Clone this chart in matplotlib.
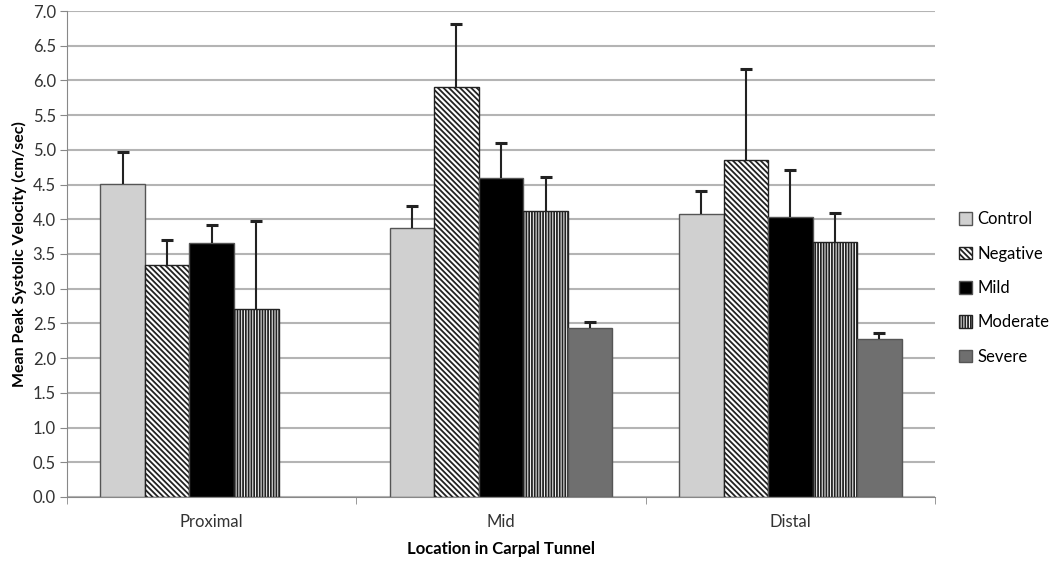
import matplotlib.pyplot as plt
import numpy as np

plt.rcParams['font.family'] = ['Lato', 'DejaVu Sans']
plt.rcParams['hatch.linewidth'] = 1.3

# datos
locations = ["Proximal", "Mid", "Distal"]
series = ["Control", "Negative", "Mild", "Moderate", "Severe"]
control = [4.51, 3.87, 4.08]
negative = [3.34, 5.91, 4.85]
mild = [3.66, 4.59, 4.03]
moderate = [2.71, 4.12, 3.67]
severe = [np.nan, 2.43, 2.28]
# errores (solo hacia arriba)
control_err = [0.46, 0.32, 0.33]
negative_err = [0.36, 0.90, 1.31]
mild_err = [0.26, 0.51, 0.68]
moderate_err = [1.27, 0.49, 0.42]
severe_err = [np.nan, 0.09, 0.08]

values = [control, negative, mild, moderate, severe]
errors = [control_err, negative_err, mild_err, moderate_err, severe_err]
colors = ["#d0d0d0", "white", "black", "white", "#6f6f6f"]
hatches = [None, "\\" * 6, None, "|" * 6, None]

fig = plt.figure(figsize=(10.5, 5.65), dpi=100)
ax = fig.add_axes([0.0638, 0.1204, 0.8267, 0.8601])

x = np.arange(len(locations))
width = 0.154
for i, name in enumerate(series):
    pos = x + (i - 2) * width
    vals = np.array(values[i])
    err = np.array(errors[i])
    ax.bar(pos, vals, width, color=colors[i], hatch=hatches[i],
           edgecolor="#222222" if hatches[i] else "#555555", linewidth=1.0,
           label=name, zorder=2)
    # barra de error solo hacia arriba, con tope
    ax.vlines(pos, vals, vals + err, color="#222222", linewidth=1.5, zorder=3)
    ax.plot(pos, vals + err, linestyle="none", marker="_", markersize=9,
            markeredgewidth=2.2, color="#222222", zorder=3)

ax.set_xlim(-0.5, 2.5)
ax.set_ylim(0, 7)
ticks = np.arange(0, 7.01, 0.5)
ax.set_yticks(ticks)
ax.set_yticklabels([f"{v:.1f}" for v in ticks], fontsize=12, color="#333333")
ax.set_xticks(x)
ax.set_xticklabels(locations, fontsize=12, color="#333333")
ax.set_xticks([-0.5, 0.5, 1.5, 2.5], minor=True)
ax.tick_params(axis="x", which="major", length=0, pad=12)
ax.tick_params(axis="x", which="minor", length=5, color="#888888")
ax.tick_params(axis="y", length=5, color="#888888", pad=3)
ax.grid(axis="y", color="#b4b4b4", linewidth=1.5, zorder=0)
ax.set_axisbelow(True)
for s in ["top", "right"]:
    ax.spines[s].set_visible(False)
for s in ["left", "bottom"]:
    ax.spines[s].set_color("#888888")

ax.set_ylabel("Mean Peak Systolic Velocity (cm/sec)", fontsize=11.5, fontweight="bold")
ax.set_xlabel("Location in Carpal Tunnel", fontsize=12, fontweight="bold", labelpad=8)

ax.legend(loc="center left", bbox_to_anchor=(1.01, 0.43), frameon=False, fontsize=12,
          handlelength=0.8, handleheight=0.8, handletextpad=0.3, labelspacing=1.1)

plt.savefig("out.png", dpi=100)
